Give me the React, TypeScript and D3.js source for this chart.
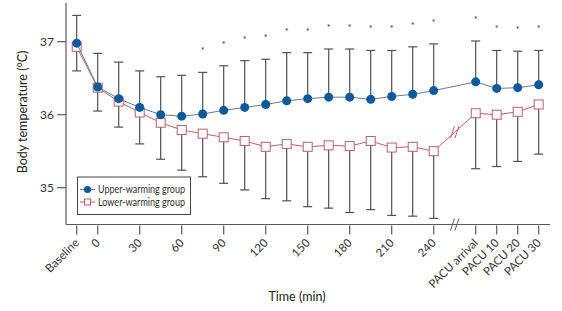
import React from "react";
import * as d3 from "d3";

const slots = ["Baseline","0","15","30","45","60","75","90","105","120","135","150","165","180","195","210","225","240","break","PACU arrival","PACU 10","PACU 20","PACU 30"];
const categories = ["Baseline","0","15","30","45","60","75","90","105","120","135","150","165","180","195","210","225","240","PACU arrival","PACU 10","PACU 20","PACU 30"];
const tickLabels = ["Baseline","0","30","60","90","120","150","180","210","240","PACU arrival","PACU 10","PACU 20","PACU 30"];
const yTicks = [35, 36, 37];

const upperMean = [36.98,36.38,36.22,36.10,36.00,35.98,36.01,36.06,36.10,36.14,36.19,36.22,36.24,36.24,36.21,36.25,36.28,36.33,36.45,36.36,36.37,36.41];
const upperSD = [0.38,0.46,0.50,0.50,0.52,0.56,0.57,0.61,0.64,0.62,0.66,0.63,0.66,0.66,0.67,0.63,0.65,0.64,0.56,0.52,0.50,0.47];
const lowerMean = [36.93,36.37,36.18,36.03,35.89,35.79,35.74,35.69,35.64,35.56,35.60,35.56,35.58,35.57,35.64,35.55,35.56,35.50,36.02,36.00,36.04,36.14];
const lowerSD = [0.33,0.32,0.35,0.43,0.50,0.55,0.59,0.63,0.67,0.71,0.78,0.82,0.86,0.91,0.94,0.93,0.95,0.92,0.76,0.71,0.68,0.68];
const significant = [false,false,false,false,false,false,true,true,true,true,true,true,true,true,true,true,true,true,true,true,true,true];
const legendLabels = ["Upper-warming group", "Lower-warming group"];

const W = 562, H = 311;
const FONT = "Lato, 'Liberation Sans', Arial, sans-serif";
const BLUE = "#0b5a9e";
const RED = "#b8606a";
const BAR = "#505050";
const AXIS = "#5a5a5a";

export default function App() {
  const x = d3.scalePoint<string>().domain(slots).range([76.7, 538.7]).padding(0);
  const y = d3.scaleLinear().domain([34.5, 37.5]).range([224.2, 5.2]);
  const axisY = 224.5;
  const axisX = 66;

  const upperLine = d3.line<number>().x((_, i) => x(categories[i])!).y(d => y(d));
  const lowerLine = d3.line<number>().x((_, i) => x(categories[i])!).y(d => y(d));

  const brk = (cx: number, cy: number, key: string, col: string) => {
    const dx = 2.2, h = 6, s = 2.0;
    return (
      <g key={key} stroke={col} strokeWidth={1}>
        <line x1={cx - dx - s} y1={cy + h} x2={cx - dx + s} y2={cy - h} />
        <line x1={cx + dx - s} y1={cy + h} x2={cx + dx + s} y2={cy - h} />
      </g>
    );
  };

  const i240 = categories.indexOf("240");
  const iArr = categories.indexOf("PACU arrival");
  const lx1 = x(categories[i240])!, ly1 = y(lowerMean[i240]);
  const lx2 = x(categories[iArr])!, ly2 = y(lowerMean[iArr]);

  return (
    <svg width={W} height={H} style={{ position: "absolute", left: 0, top: 0, background: "#fff" }} fontFamily={FONT}>
      <rect width={W} height={H} fill="#fff" />
      {/* axes */}
      <line x1={axisX} y1={3} x2={axisX} y2={axisY} stroke={AXIS} strokeWidth={1.2} />
      <line x1={axisX} y1={axisY} x2={550} y2={axisY} stroke={AXIS} strokeWidth={1.2} />
      {yTicks.map(t => (
        <g key={t}>
          <line x1={axisX - 9} x2={axisX} y1={y(t)} y2={y(t)} stroke={AXIS} strokeWidth={1.2} />
          <text x={axisX - 12} y={y(t)} dy="0.35em" textAnchor="end" fontSize={12} fill="#333">{t}</text>
        </g>
      ))}
      {tickLabels.map(t => {
        const tx = x(t)!;
        return (
          <g key={t}>
            <line x1={tx} x2={tx} y1={axisY + 1} y2={axisY + 10} stroke={AXIS} strokeWidth={1.2} />
            <text transform={`translate(${tx + 3},${axisY + 19}) rotate(-45)`} textAnchor="end" fontSize={11.5} fill="#333">{t}</text>
          </g>
        );
      })}
      {brk(x("break")!, axisY, "xb", AXIS)}
      <text x={297} y={301} textAnchor="middle" fontSize={12.5} fill="#222">Time (min)</text>
      <text transform={`translate(27,112) rotate(-90)`} textAnchor="middle" fontSize={12.5} fill="#222">Body temperature (°C)</text>

      {/* error bars */}
      {categories.map((c, i) => {
        const cx = x(c)!;
        const t = y(upperMean[i] + upperSD[i]);
        const b = y(lowerMean[i] - lowerSD[i]);
        return (
          <g key={"eb" + c} stroke={BAR} strokeWidth={1.2}>
            <line x1={cx} x2={cx} y1={y(upperMean[i])} y2={t} />
            <line x1={cx - 4.5} x2={cx + 4.5} y1={t} y2={t} />
            <line x1={cx} x2={cx} y1={y(lowerMean[i])} y2={b} />
            <line x1={cx - 4.5} x2={cx + 4.5} y1={b} y2={b} />
          </g>
        );
      })}
      {/* significance */}
      {categories.map((c, i) => significant[i] ? (
        <text key={"s" + c} x={x(c)!} y={y(upperMean[i] + upperSD[i]) - 24 + 6} textAnchor="middle" fontSize={9} fill="#333">*</text>
      ) : null)}

      {/* lower group */}
      <path d={lowerLine(lowerMean) || ""} fill="none" stroke={RED} strokeWidth={1} />
      {brk((lx1 + lx2) / 2, (ly1 + ly2) / 2, "lb", RED)}
      {categories.map((c, i) => (
        <rect key={"sq" + c} x={x(c)! - 4.5} y={y(lowerMean[i]) - 4.5} width={9} height={9} fill="#fff" stroke={RED} strokeWidth={1} />
      ))}

      {/* upper group */}
      <path d={upperLine(upperMean) || ""} fill="none" stroke="#6b7a8c" strokeWidth={1} />
      {categories.map((c, i) => (
        <circle key={"c" + c} cx={x(c)!} cy={y(upperMean[i])} r={4.5} fill={BLUE} />
      ))}

      {/* legend */}
      <rect x={77.5} y={177} width={113} height={37.5} fill="#fff" stroke="#444" strokeWidth={1} />
      <line x1={80} x2={95} y1={189.5} y2={189.5} stroke="#6b7a8c" strokeWidth={1} />
      <circle cx={87.5} cy={189.5} r={3.6} fill={BLUE} />
      <text x={98} y={189.5} dy="0.35em" fontSize={10.5} fill="#333" textLength={87} lengthAdjust="spacingAndGlyphs">{legendLabels[0]}</text>
      <line x1={80} x2={95} y1={202} y2={202} stroke={RED} strokeWidth={1} />
      <rect x={84.5} y={199} width={6} height={6} fill="#fff" stroke={RED} strokeWidth={1} />
      <text x={98} y={202} dy="0.35em" fontSize={10.5} fill="#333" textLength={87} lengthAdjust="spacingAndGlyphs">{legendLabels[1]}</text>
    </svg>
  );
}
